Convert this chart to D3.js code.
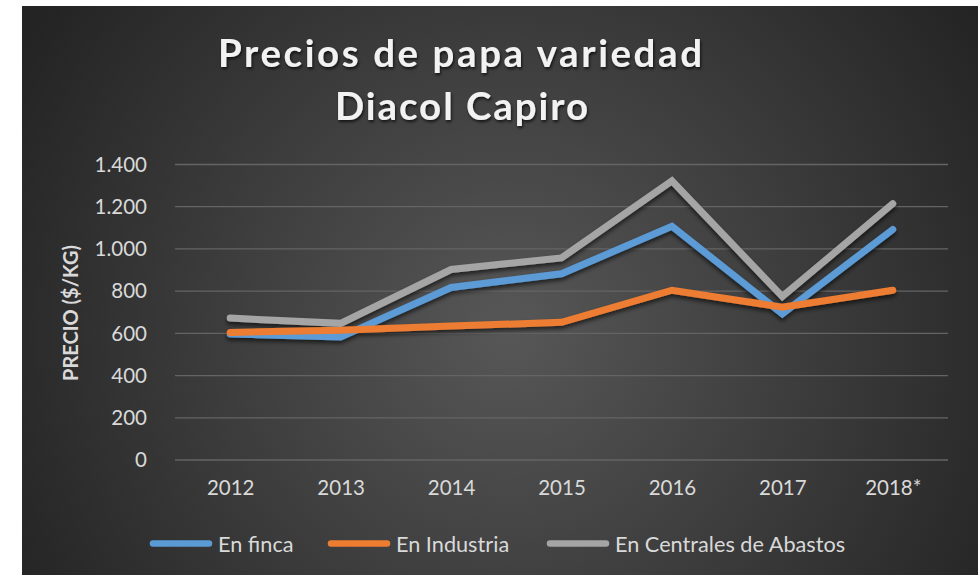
<!DOCTYPE html>
<html><head><meta charset="utf-8">
<script src="https://cdn.jsdelivr.net/npm/d3@7"></script>
<style>
html,body{margin:0;padding:0;background:#fff;}
svg{display:block;}
text{font-family:Lato,"Open Sans",sans-serif;}
</style></head>
<body>
<svg id="chart" width="980" height="575"></svg>
<script>
const years = ["2012","2013","2014","2015","2016","2017","2018*"];
const enFinca = [595, 580, 815, 880, 1105, 690, 1090];
const enIndustria = [602, 612, 632, 650, 802, 722, 802];
const enCentrales = [670, 645, 900, 955, 1320, 772, 1212];
const yTicks = [0, 200, 400, 600, 800, 1000, 1200, 1400];
const seriesNames = ["En finca", "En Industria", "En Centrales de Abastos"];
const seriesColors = ["#5B9BD5", "#ED7D31", "#A5A5A5"];
const titleLines = ["Precios de papa variedad", "Diacol Capiro"];
const yAxisTitle = "PRECIO ($/KG)";

const series = [
  {name: seriesNames[0], color: seriesColors[0], values: enFinca},
  {name: seriesNames[1], color: seriesColors[1], values: enIndustria},
  {name: seriesNames[2], color: seriesColors[2], values: enCentrales}
];

const svg = d3.select("#chart");
const defs = svg.append("defs");
const rg = defs.append("radialGradient").attr("id","bg")
  .attr("gradientUnits","userSpaceOnUse")
  .attr("cx",510).attr("cy",330).attr("r",560);
rg.append("stop").attr("offset","0%").attr("stop-color","#575757");
rg.append("stop").attr("offset","100%").attr("stop-color","#242424");

const sh = defs.append("filter").attr("id","shadow")
  .attr("x","-5%").attr("y","-20%").attr("width","110%").attr("height","150%");
sh.append("feDropShadow").attr("dx",0).attr("dy",3).attr("stdDeviation",2)
  .attr("flood-color","#000").attr("flood-opacity",0.6);

const tsh = defs.append("filter").attr("id","tshadow")
  .attr("x","-5%").attr("y","-20%").attr("width","110%").attr("height","150%");
tsh.append("feDropShadow").attr("dx",1).attr("dy",2).attr("stdDeviation",1.5)
  .attr("flood-color","#000").attr("flood-opacity",0.7);

svg.append("rect").attr("x",22).attr("y",6).attr("width",956).attr("height",569)
  .attr("fill","url(#bg)");

// title
const title = svg.append("g").attr("filter","url(#tshadow)");
title.append("text").attr("x",460).attr("y",67).attr("text-anchor","middle")
  .attr("font-size",38.5).attr("font-weight","bold").attr("fill","#f2f2f2")
  .attr("textLength",484).attr("lengthAdjust","spacing").text(titleLines[0]);
title.append("text").attr("x",461.5).attr("y",120).attr("text-anchor","middle")
  .attr("font-size",38.5).attr("font-weight","bold").attr("fill","#f2f2f2")
  .attr("textLength",253).attr("lengthAdjust","spacing").text(titleLines[1]);

const x = d3.scalePoint().domain(years).range([175,948]).padding(0.5);
const y = d3.scaleLinear().domain([0,1400]).range([459.5,164]);

// gridlines
const gridAxis = d3.axisLeft(y).tickValues(yTicks).tickSize(-(948-175)).tickFormat("");
const grid = svg.append("g").attr("transform","translate(175,0)").call(gridAxis);
grid.select(".domain").remove();
grid.selectAll("line").attr("stroke","#646464").attr("stroke-width",1.3);

// y axis labels
const fmt = d => d3.format(",")(d).replace(/,/g,".");
const yAxis = d3.axisLeft(y).tickValues(yTicks).tickSize(0).tickPadding(28).tickFormat(fmt);
const ya = svg.append("g").attr("transform","translate(175,0)").call(yAxis);
ya.select(".domain").remove();
ya.selectAll("text").attr("fill","#d9d9d9").attr("font-size",20.5)
  .attr("font-family","Lato, sans-serif").attr("dy","0.35em");

// x axis labels
const xAxis = d3.axisBottom(x).tickSize(0).tickPadding(21);
const xa = svg.append("g").attr("transform","translate(0,459.5)").call(xAxis);
xa.select(".domain").remove();
xa.selectAll("text").attr("fill","#d9d9d9").attr("font-size",20.5)
  .attr("font-family","Lato, sans-serif");

// y title
svg.append("text").attr("transform","translate(78,313) rotate(-90)")
  .attr("text-anchor","middle").attr("font-size",20).attr("font-weight","bold")
  .attr("fill","#d9d9d9").text(yAxisTitle);

// lines
const line = d3.line().x((d,i)=>x(years[i])).y(d=>y(d));
const lg = svg.append("g").attr("filter","url(#shadow)");
series.forEach(s=>{
  lg.append("path").datum(s.values).attr("d",line)
    .attr("fill","none").attr("stroke",s.color).attr("stroke-width",7)
    .attr("stroke-linejoin","miter").attr("stroke-linecap","round");
});

// legend
const legendX = [153, 331, 550];
const leg = svg.append("g");
series.forEach((s,i)=>{
  const g = leg.append("g").attr("transform",`translate(${legendX[i]},543.5)`);
  g.append("line").attr("x1",0).attr("x2",56).attr("y1",0).attr("y2",0)
    .attr("stroke",s.color).attr("stroke-width",6.5).attr("stroke-linecap","round");
  g.append("text").attr("x",65).attr("y",8).attr("font-size",21.7)
    .attr("fill","#d9d9d9").text(s.name);
});
</script>
</body></html>
